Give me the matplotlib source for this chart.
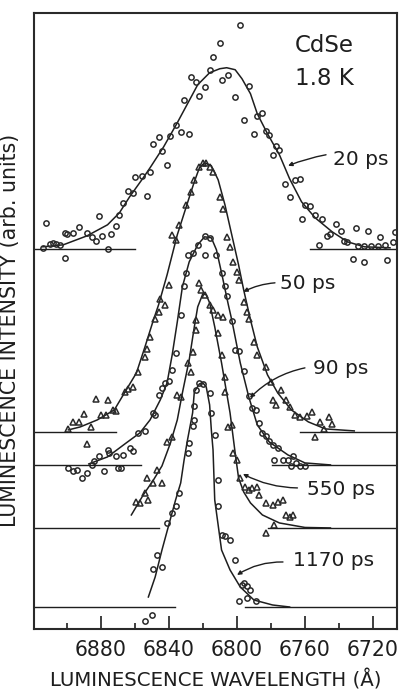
import numpy as np
import matplotlib.pyplot as plt

# time-resolved luminescence of CdSe at 1.8 K
delays = ['20 ps', '50 ps', '90 ps', '550 ps', '1170 ps']
offsets = [38.0, 19.7, 16.4, 10.1, 2.2]          # zero level of each trace
symbols = ['o', '^', 'o', '^', 'o']
base_left_end = [6859.8, 6871.0, 6856.5, 6845.8, 6836.3]
base_right_start = [6757.0, 6762.9, 6779.5, 6781.7, 6795.2]

# 20 ps
fit20_wl = [6914, 6902, 6888, 6876, 6869, 6863, 6855, 6851, 6843, 6835, 6829, 6823, 6816, 6810,
            6806, 6801, 6797, 6792, 6788, 6782, 6775, 6769, 6762, 6754, 6744, 6735, 6725, 6710]
fit20_int = [0.2, 0.4, 1.3, 2.4, 3.6, 5.2, 7.1, 8.1, 10.2, 12.6, 14.5, 16.4, 17.6, 18.0,
             18.1, 17.9, 17.0, 15.5, 13.5, 11.5, 9.4, 7.0, 4.7, 3.1, 1.7, 0.7, 0.2, 0.1]
pts20_wl = [6914, 6912, 6910, 6908, 6906, 6904, 6901, 6901, 6900, 6896, 6893, 6888, 6885, 6883,
            6881, 6879, 6876, 6874, 6871, 6869, 6867, 6864, 6861, 6860, 6856, 6853, 6851, 6849,
            6846, 6844, 6841, 6839, 6836, 6833, 6828, 6831, 6827, 6824, 6819, 6822, 6816, 6814,
            6810, 6798, 6809, 6805, 6801, 6793, 6796, 6790, 6788, 6785, 6783, 6781, 6777, 6775,
            6779, 6772, 6769, 6766, 6763, 6762, 6760, 6757, 6754, 6752, 6750, 6747, 6745, 6742,
            6739, 6737, 6735, 6732, 6730, 6729, 6725, 6725, 6723, 6721, 6717, 6716, 6713, 6712,
            6708, 6707]
pts20_int = [0.1, 2.6, 0.5, 0.6, 0.5, 0.4, -0.9, 1.6, 1.5, 1.6, 2.2, 1.6, 1.2, 0.8,
             3.3, 1.3, 0.0, 1.5, 2.3, 3.4, 4.6, 5.8, 5.6, 7.2, 7.3, 5.3, 7.7, 10.5,
             11.2, 9.8, 8.4, 11.3, 12.4, 11.7, 11.5, 14.9, 17.2, 16.7, 16.2, 15.3, 17.9, 19.2,
             20.6, 22.4, 16.9, 17.4, 15.2, 16.3, 12.9, 11.5, 13.3, 13.6, 11.8, 11.4, 10.3, 9.9,
             9.4, 6.5, 5.2, 6.9, 7.0, 3.0, 4.4, 4.3, 3.4, 0.4, 3.0, 1.3, 1.5, 2.5,
             1.8, 0.8, 0.7, -1.0, 2.1, 0.3, -1.3, 0.3, 1.8, 0.3, 0.3, 1.2, 0.4, -1.1,
             0.7, 1.7]

# 50 ps
fit50_wl = [6899, 6892, 6882, 6872, 6865, 6859, 6854, 6849, 6846, 6841, 6835, 6829, 6825, 6822,
            6819, 6815, 6811, 6807, 6803, 6799, 6796, 6792, 6788, 6782, 6776, 6768, 6758, 6748, 6731]
fit50_int = [0.2, 0.5, 1.2, 2.2, 4.2, 5.9, 8.5, 11.2, 12.7, 15.7, 19.7, 22.9, 25.0, 26.4,
             26.9, 26.6, 25.2, 22.7, 19.7, 16.7, 14.2, 11.2, 8.5, 5.7, 3.9, 2.2, 1.0, 0.3, 0.1]
pts50_wl = [6899, 6896, 6893, 6890, 6888, 6886, 6883, 6880, 6877, 6876, 6873, 6871, 6866, 6864,
            6861, 6858, 6854, 6853, 6851, 6848, 6846, 6845, 6842, 6840, 6838, 6836, 6834, 6830,
            6827, 6825, 6822, 6820, 6818, 6816, 6814, 6810, 6808, 6806, 6804, 6802, 6800, 6799,
            6796, 6794, 6793, 6790, 6788, 6783, 6780, 6774, 6779, 6777, 6771, 6769, 6766, 6763,
            6759, 6756, 6751, 6749, 6746, 6744, 6754]
pts50_int = [0.3, 1.0, 1.0, 1.8, -1.2, 0.5, 3.3, 1.7, 1.7, 3.2, 2.2, 2.1, 4.0, 4.3,
             4.5, 6.0, 7.5, 8.3, 9.5, 11.3, 12.0, 13.3, 12.7, 14.7, 19.7, 19.2, 20.7, 22.7,
             24.0, 25.2, 26.5, 26.9, 26.9, 26.5, 26.0, 23.5, 22.3, 19.5, 18.5, 17.0, 16.0, 15.2,
             13.0, 12.0, 11.3, 9.0, 7.7, 6.5, 5.0, 4.2, 3.2, 2.7, 3.2, 2.5, 1.7, 1.5,
             1.6, 2.0, 1.0, 0.3, 1.5, 0.8, -0.5]

# 90 ps
fit90_wl = [6887, 6876, 6865, 6857, 6851, 6845, 6841, 6838, 6835, 6832, 6828, 6823, 6819,
            6815, 6812, 6809, 6805, 6803, 6798, 6793, 6788, 6781, 6770, 6760, 6745]
fit90_int = [0.1, 0.8, 2.2, 3.2, 4.5, 6.5, 8.2, 11.0, 14.3, 17.8, 20.3, 22.0, 22.8,
             22.7, 21.5, 19.2, 16.0, 14.5, 10.2, 6.8, 4.0, 2.3, 1.0, 0.2, 0.0]
pts90_wl = [6899, 6896, 6894, 6891, 6888, 6885, 6884, 6881, 6878, 6876, 6875, 6871, 6870, 6868,
            6867, 6863, 6861, 6858, 6854, 6849, 6848, 6846, 6844, 6842, 6840, 6838, 6836, 6833,
            6831, 6830, 6829, 6826, 6823, 6819, 6819, 6816, 6812, 6809, 6807, 6806, 6803, 6801,
            6799, 6796, 6793, 6791, 6789, 6787, 6785, 6783, 6781, 6779, 6776, 6778, 6773, 6770,
            6767, 6768, 6765, 6763, 6760]
pts90_int = [-0.3, -0.6, -0.5, -1.3, -0.8, 0.0, 0.4, 0.9, -0.6, 1.5, 1.2, 0.9, -0.3, -0.3,
             1.0, 1.7, 1.4, 3.2, 3.4, 5.2, 5.0, 7.0, 7.7, 8.2, 8.4, 9.5, 11.2, 15.0,
             17.9, 19.2, 21.0, 21.2, 22.0, 21.0, 22.9, 22.7, 21.0, 19.2, 17.9, 16.9, 14.4, 11.5,
             11.4, 9.4, 6.9, 5.7, 5.5, 4.2, 3.2, 2.9, 2.4, 2.0, 1.7, 0.5, 0.5, 0.5,
             0.9, -0.1, 0.2, -0.1, -0.1]

# 550 ps
fit550_wl = [6862, 6855, 6849, 6844, 6839, 6835, 6832, 6828, 6825, 6823, 6820, 6818,
             6816, 6813, 6809, 6804, 6801, 6799, 6796, 6792, 6785, 6775, 6760, 6745]
fit550_int = [1.3, 3.3, 4.8, 6.2, 8.5, 10.8, 13.5, 16.8, 20.1, 22.1, 23.4, 23.3,
              22.5, 20.1, 16.5, 11.5, 7.5, 5.0, 3.6, 2.5, 1.3, 0.5, 0.05, 0.0]
pts550_wl = [6859, 6857, 6854, 6853, 6852, 6849, 6847, 6844, 6841, 6838, 6835, 6833, 6829, 6827,
             6826, 6824, 6824, 6822, 6821, 6819, 6816, 6814, 6811, 6808, 6811, 6809, 6807, 6807,
             6805, 6803, 6802, 6800, 6798, 6795, 6793, 6791, 6788, 6787, 6783, 6779, 6776, 6773,
             6771, 6769, 6767, 6783, 6778]
pts550_int = [2.6, 2.5, 3.5, 5.0, 2.8, 4.5, 5.8, 4.5, 8.6, 9.1, 13.3, 13.1, 16.5, 15.6,
              17.6, 19.8, 20.8, 24.5, 23.8, 23.3, 22.3, 21.8, 21.3, 21.1, 19.5, 17.3, 15.1, 13.6,
              10.1, 10.3, 7.5, 6.8, 5.0, 4.1, 3.8, 4.0, 4.1, 3.3, 2.5, 2.3, 2.6, 2.8,
              1.3, 1.1, 1.3, -0.5, 0.3]

# 1170 ps
fit1170_wl = [6852, 6848, 6844, 6840, 6836, 6833, 6831, 6829, 6826, 6825, 6822, 6820,
              6818, 6816, 6815, 6814, 6813, 6811, 6809, 6804, 6798, 6790, 6779, 6769]
fit1170_int = [1.0, 3.0, 5.7, 8.2, 10.7, 12.4, 14.7, 16.7, 19.4, 21.5, 22.3, 22.4,
               22.0, 20.2, 17.7, 15.7, 10.7, 8.2, 5.7, 3.7, 2.0, 0.7, 0.2, 0.0]
pts1170_wl = [6854, 6850, 6849, 6847, 6844, 6841, 6838, 6836, 6834, 6829, 6828, 6826, 6825, 6825,
              6824, 6822, 6820, 6816, 6815, 6813, 6811, 6811, 6809, 6807, 6804, 6801, 6797, 6796,
              6794, 6792, 6799, 6794, 6789]
pts1170_int = [-1.4, -0.8, 3.8, 5.2, 4.0, 8.4, 9.4, 10.1, 11.4, 15.4, 16.4, 18.1, 18.7, 20.1,
               21.7, 22.4, 22.3, 21.4, 19.4, 17.2, 12.7, 10.1, 7.2, 7.1, 6.7, 4.7, 2.2, 2.4,
               2.1, 1.7, 0.6, 0.9, 0.6]

fits = [(fit20_wl, fit20_int), (fit50_wl, fit50_int), (fit90_wl, fit90_int),
        (fit550_wl, fit550_int), (fit1170_wl, fit1170_int)]
points = [(pts20_wl, pts20_int), (pts50_wl, pts50_int), (pts90_wl, pts90_int),
          (pts550_wl, pts550_int), (pts1170_wl, pts1170_int)]

ink = '#1e1e1e'
x_left, x_right = 6919.2, 6705.9

fig = plt.figure(figsize=(4, 6.9), dpi=100)
ax = fig.add_axes([0.085, 0.0884, 0.9075, 0.8932])

for i in range(len(delays)):
    off = offsets[i]
    fw, fi = fits[i]
    pw, pi = points[i]
    ax.plot(fw, np.array(fi) + off, '-', color=ink, lw=1.1)
    ax.plot(pw, np.array(pi) + off, symbols[i], ms=3.8, mfc='none', mec='#2a2a2a', mew=1.1)
    ax.plot([x_left, base_left_end[i]], [off, off], '-', color=ink, lw=1.0)
    ax.plot([base_right_start[i], x_right], [off, off], '-', color=ink, lw=1.0)

# delay labels with pointers
lab_pos = [(6743.5, 46.9), (6774.7, 34.5), (6755.1, 26.0), (6759.0, 13.9), (6766.8, 6.8)]
tails = [(6747.6, 47.4), (6777.6, 34.6), (6760.0, 26.1), (6764.4, 14.1), (6772.9, 6.7)]
tips = [(6769.9, 46.3), (6796.2, 33.7), (6792.3, 23.1), (6796.4, 15.5), (6799.9, 5.4)]
rads = [0.05, 0.1, 0.15, -0.12, 0.15]
for i in range(len(delays)):
    ax.annotate('', xy=tips[i], xytext=tails[i],
                arrowprops=dict(arrowstyle='-|>', color=ink, lw=1.0, mutation_scale=6,
                                shrinkA=0, shrinkB=0,
                                connectionstyle='arc3,rad=%s' % rads[i]))
    ax.text(lab_pos[i][0], lab_pos[i][1], delays[i], fontsize=14.5, color=ink,
            ha='left', va='center')

ax.text(6748.8, 58.3, 'CdSe', fontsize=16.5, color=ink, ha='center', va='center')
ax.text(6748.8, 55.0, '1.8 K', fontsize=16.5, color=ink, ha='center', va='center')

ax.set_xlim(x_left, x_right)
ax.set_ylim(0, 61.6)
ax.set_xticks([6880, 6840, 6800, 6760, 6720])
ax.set_xticks([6900, 6860, 6820, 6780, 6740], minor=True)
ax.set_yticks([])
ax.tick_params(axis='x', which='both', direction='in', top=False, colors=ink,
               labelsize=14.8, pad=8.0, width=1.2)
ax.tick_params(axis='x', which='major', length=9.5)
ax.tick_params(axis='x', which='minor', length=4.2)
for s in ax.spines.values():
    s.set_linewidth(1.5)
    s.set_color('#2a2a2a')

ax.set_xlabel('LUMINESCENCE WAVELENGTH (Å)', fontsize=14.2, color=ink)
ax.xaxis.set_label_coords(0.5, -0.0655)
ax.set_ylabel('LUMINESCENCE INTENSITY (arb. units)', fontsize=14.8, color=ink)
ax.yaxis.set_label_coords(-0.038, 0.485)

fig.savefig('out.png', dpi=100, facecolor='white')
